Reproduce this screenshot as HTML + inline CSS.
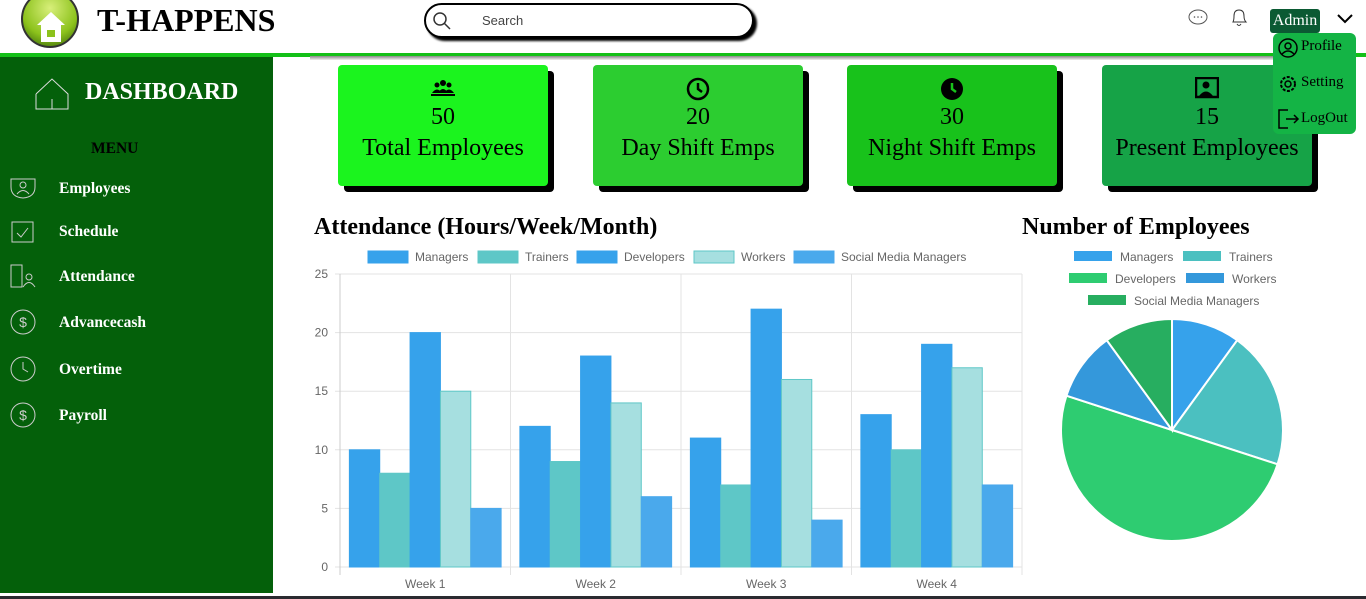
<!DOCTYPE html>
<html><head><meta charset="utf-8"><style>
*{box-sizing:border-box;margin:0;padding:0}
body{width:1366px;height:599px;overflow:hidden;background:#fff;font-family:"Liberation Serif",serif;position:relative}
.abs{position:absolute}
.card{position:absolute;top:65px;width:210px;height:121px;border-radius:4px;box-shadow:6px 6px 0 #000;text-align:center;font-size:24px;color:#000}
.card .n{position:absolute;top:39px;width:100%}
.card .l{position:absolute;top:70px;width:100%}
.card svg{position:absolute;top:12px;left:93px}
.nav{position:absolute;left:59px;color:#fff;font-weight:bold;font-size:15.5px}
.ico{position:absolute;left:10px}
.lg{font-family:"Liberation Sans",sans-serif;font-size:12px;fill:#666}
</style></head><body>
<div class="abs" style="left:0;top:0;width:1366px;height:54px;background:#fff"></div>
<div class="abs" style="left:21px;top:-10px;width:58px;height:58px;border-radius:50%;background:radial-gradient(circle at 50% 30%,#d8ef7a,#8cc21c 60%,#2d5a08);border:2px solid #333"></div>
<svg class="abs" style="left:36px;top:10px" width="30" height="34"><polygon points="15,2 29,15 25,15 25,32 5,32 5,15 1,15" fill="#fff"/><rect x="11" y="20" width="8" height="7" fill="#8cc21c"/></svg>
<div class="abs" style="left:97px;top:2px;font-size:32px;font-weight:bold">T-HAPPENS</div>
<div class="abs" style="left:424px;top:3px;width:330px;height:35px;border:2px solid #000;border-radius:18px;box-shadow:3px 3px 2px #000;background:#fff">
<svg class="abs" style="left:6px;top:6px" width="20" height="20"><circle cx="8" cy="8" r="6" fill="none" stroke="#333" stroke-width="1.5"/><line x1="12.5" y1="12.5" x2="18" y2="18" stroke="#333" stroke-width="1.5"/></svg>
<span class="abs" style="left:56px;top:8px;font-family:'Liberation Sans',sans-serif;font-size:13px;color:#444">Search</span></div>
<svg class="abs" style="left:1187px;top:8px" width="22" height="20"><ellipse cx="11" cy="9" rx="9" ry="7" fill="none" stroke="#555"/><circle cx="7.5" cy="9" r=".8" fill="#555"/><circle cx="11" cy="9" r=".8" fill="#555"/><circle cx="14.5" cy="9" r=".8" fill="#555"/></svg>
<svg class="abs" style="left:1229px;top:7px" width="20" height="22"><path d="M4 15 Q5 13 5 9 Q5 3 10 3 Q15 3 15 9 Q15 13 17 15 Z" fill="none" stroke="#333"/><path d="M8 17 Q10 20 12 17" fill="none" stroke="#333"/></svg>
<div class="abs" style="left:1270px;top:9px;width:50px;height:24px;background:#0b5a33;color:#fff;border-radius:3px;font-size:16px;text-align:center;line-height:24px">Admin</div>
<svg class="abs" style="left:1336px;top:13px" width="18" height="12"><polyline points="2,2 9,9 16,2" fill="none" stroke="#000" stroke-width="2"/></svg>
<div class="abs" style="left:0;top:53px;width:1366px;height:4px;background:#13c017"></div>
<div class="abs" style="left:0;top:57px;width:273px;height:536px;background:#04600a"></div>
<div class="abs" style="left:0;top:593px;width:1366px;height:6px;background:#fff"></div>
<div class="abs" style="left:0;top:596px;width:1366px;height:3px;background:#2a2a30"></div>
<svg class="abs" style="left:35px;top:77px" width="34" height="33"><polyline points="1,17 17,2 33,17 33,32 1,32 1,17" fill="none" stroke="#ddd"/><line x1="17" y1="22" x2="17" y2="32" stroke="#ddd"/></svg>
<div class="abs" style="left:85px;top:79px;color:#fff;font-weight:bold;font-size:24px">DASHBOARD</div>
<div class="abs" style="left:91px;top:140px;font-weight:bold;font-size:15.5px">MENU</div>
<div class="nav" style="top:180px">Employees</div>
<div class="nav" style="top:223px">Schedule</div>
<div class="nav" style="top:268px">Attendance</div>
<div class="nav" style="top:314px">Advancecash</div>
<div class="nav" style="top:361px">Overtime</div>
<div class="nav" style="top:407px">Payroll</div>
<svg class="ico" style="top:177px" width="26" height="22"><path d="M1 2 H25 V10 Q25 20 13 21 Q1 20 1 10Z" fill="none" stroke="#ccc"/><circle cx="13" cy="8" r="3" fill="none" stroke="#ccc"/><path d="M7 17 Q13 10 19 17" fill="none" stroke="#ccc"/></svg>
<svg class="ico" style="top:218px" width="26" height="26"><rect x="2" y="4" width="21" height="20" fill="none" stroke="#ccc"/><polyline points="7,15 11,19 18,10" fill="none" stroke="#ccc"/></svg>
<svg class="ico" style="top:263px" width="26" height="26"><rect x="1" y="2" width="11" height="22" fill="none" stroke="#ccc"/><circle cx="19" cy="14" r="3" fill="none" stroke="#ccc"/><path d="M13 24 Q19 15 25 24" fill="none" stroke="#ccc"/></svg>
<svg class="ico" style="top:309px" width="26" height="26"><circle cx="13" cy="13" r="12" fill="none" stroke="#ccc"/><text x="13" y="18" text-anchor="middle" font-size="14" fill="#ccc" font-family="Liberation Sans">$</text></svg>
<svg class="ico" style="top:356px" width="26" height="26"><circle cx="13" cy="13" r="12" fill="none" stroke="#ccc"/><polyline points="13,6 13,13 18,16" fill="none" stroke="#ccc"/></svg>
<svg class="ico" style="top:402px" width="26" height="26"><circle cx="13" cy="13" r="12" fill="none" stroke="#ccc"/><text x="13" y="18" text-anchor="middle" font-size="14" fill="#ccc" font-family="Liberation Sans">$</text></svg>
<div class="abs" style="left:310px;top:56px;width:1000px;height:4px;background:linear-gradient(#888,#eee)"></div>

<div class="card" style="left:338px;background:#1bf41e"><svg width="24" height="20" viewBox="0 0 24 20"><circle cx="6" cy="8" r="2.5"/><circle cx="12" cy="6" r="3"/><circle cx="18" cy="8" r="2.5"/><path d="M1 16 Q6 9 11 16Z M7 16 Q12 8 17 16Z M13 16 Q18 9 23 16Z"/><rect x="0" y="17" width="24" height="2"/></svg><div class="n">50</div><div class="l">Total Employees</div></div>
<div class="card" style="left:593px;background:#2ccd30"><svg width="24" height="24"><circle cx="12" cy="12" r="10" fill="none" stroke="#000" stroke-width="2.5"/><polyline points="12,6 12,12 16,15" fill="none" stroke="#000" stroke-width="2.5"/></svg><div class="n">20</div><div class="l">Day Shift Emps</div></div>
<div class="card" style="left:847px;background:#18c21b"><svg width="24" height="24"><circle cx="12" cy="12" r="11"/><polyline points="12,6 12,12 16,15" fill="none" stroke="#18c21b" stroke-width="2.5"/></svg><div class="n">30</div><div class="l">Night Shift Emps</div></div>
<div class="card" style="left:1102px;background:#16a347"><svg width="24" height="22"><rect x="1" y="1" width="22" height="19" fill="none" stroke="#000" stroke-width="2.5"/><circle cx="11" cy="8" r="3.5"/><path d="M4 19 Q11 10 18 19Z"/></svg><div class="n">15</div><div class="l">Present Employees</div></div>

<div class="abs" style="left:1273px;top:33px;width:83px;height:101px;background:#14b445;border-radius:6px;font-size:15px">
<svg class="abs" style="left:5px;top:5px" width="20" height="20"><circle cx="10" cy="10" r="9" fill="none" stroke="#000" stroke-width="1.5"/><circle cx="10" cy="8" r="3" fill="none" stroke="#000" stroke-width="1.5"/><path d="M4 16 Q10 10 16 16" fill="none" stroke="#000" stroke-width="1.5"/></svg>
<span class="abs" style="left:28px;top:5px">Profile</span>
<svg class="abs" style="left:5px;top:41px" width="20" height="20"><circle cx="10" cy="10" r="7" fill="none" stroke="#000" stroke-width="2" stroke-dasharray="3 1.5"/><circle cx="10" cy="10" r="3" fill="none" stroke="#000" stroke-width="1.5"/></svg>
<span class="abs" style="left:28px;top:41px">Setting</span>
<svg class="abs" style="left:5px;top:76px" width="22" height="20"><polyline points="10,1 1,1 1,19 10,19" fill="none" stroke="#000" stroke-width="1.5"/><line x1="8" y1="10" x2="20" y2="10" stroke="#000" stroke-width="1.5"/><polyline points="16,6 20,10 16,14" fill="none" stroke="#000" stroke-width="1.5"/></svg>
<span class="abs" style="left:28px;top:77px">LogOut</span></div>

<div class="abs" style="left:314px;top:214px;font-size:24px;font-weight:bold">Attendance (Hours/Week/Month)</div>
<div class="abs" style="left:1022px;top:214px;font-size:24px;font-weight:bold">Number of Employees</div>
<svg id="bar" class="abs" style="left:300px;top:240px" width="730" height="355"></svg>
<svg id="pie" class="abs" style="left:1030px;top:240px" width="336" height="310"></svg>
<script>
const categories=["Week 1","Week 2","Week 3","Week 4"];
const seriesNames=["Managers","Trainers","Developers","Workers","Social Media Managers"];
const managers=[10,12,11,13];
const trainers=[8,9,7,10];
const developers=[20,18,22,19];
const workers=[15,14,16,17];
const socialMedia=[5,6,4,7];
const yTicks=[0,5,10,15,20,25];
const pieLabels=["Managers","Trainers","Developers","Workers","Social Media Managers"];
const pieValues=[10,20,50,10,10];

const NS="http://www.w3.org/2000/svg";
function mk(p,t,a){const e=document.createElementNS(NS,t);for(const k in a)e.setAttribute(k,a[k]);p.appendChild(e);return e;}
const bar=document.getElementById('bar');
const X0=40,X1=722,Y0=327,Y1=34,YMAX=25;
const y=v=>Y0-(v/YMAX)*(Y0-Y1);
const cw=(X1-X0)/categories.length;
const fills=["#36a2eb","#5ec7c7","#36a2eb","#a6dfe0","#4aa9ec"];
const strokes=["#36a2eb","#5ec7c7","#36a2eb","#5ec7c7","#4aa9ec"];
const series=[managers,trainers,developers,workers,socialMedia];
yTicks.forEach(t=>{
 const l=mk(bar,'line',{x1:X0-5,x2:X1,y1:y(t),y2:y(t),stroke:'#e3e3e3'});
 
 
 const tx=mk(bar,'text',{x:X0-12,y:y(t)+4,'text-anchor':'end',class:'lg'});tx.textContent=t;
 
 
});
for(let i=0;i<=categories.length;i++){
 const l=mk(bar,'line',{x1:X0+i*cw,x2:X0+i*cw,y1:Y1,y2:Y0+8,stroke:i==0?'#ccc':'#e3e3e3'});
 
 
}
const bw=cw*0.89/5;
categories.forEach((c,i)=>{
 const tx=mk(bar,'text',{x:X0+cw*(i+0.5),y:Y0+21,'text-anchor':'middle',class:'lg'});tx.textContent=c;
 
 
 series.forEach((s,j)=>{
  const x=X0+cw*i+cw*0.055+j*bw;
  const r=mk(bar,'rect',{x:x,y:y(s[i]),width:bw,height:Y0-y(s[i]),fill:fills[j],stroke:strokes[j],'stroke-width':1});
  
  
 });
});
let lx=[68,178,277,394,494];
seriesNames.forEach((n,j)=>{
 const g=mk(bar,'g',{});
 
 
 mk(g,'rect',{x:lx[j],y:11,width:40,height:12,fill:fills[j],stroke:strokes[j]});
 const t=mk(g,'text',{x:lx[j]+47,y:21,class:'lg'});t.textContent=n;
});
const pie=document.getElementById('pie');
const pf=["#36a2eb","#4bc0c0","#2ecc71","#3498db","#27ae60"];
const cx=142,cy=190,R=111;
const tot=pieValues.reduce((a,b)=>a+b,0);
let ang=-Math.PI/2;
pieValues.forEach((v,i)=>{
 const a2=ang+v/tot*2*Math.PI;
 const large=(a2-ang)>Math.PI?1:0;
 const p=mk(pie,'path',{d:`M${cx},${cy} L${cx+R*Math.cos(ang)},${cy+R*Math.sin(ang)} A${R},${R} 0 ${large} 1 ${cx+R*Math.cos(a2)},${cy+R*Math.sin(a2)} Z`,fill:pf[i],stroke:'#fff','stroke-width':2});
 
 
 ang=a2;
});
const pl=[[44,11],[153,11],[39,33],[156,33],[58,55]];
pieLabels.forEach((n,i)=>{
 const g=mk(pie,'g',{});
 
 
 mk(g,'rect',{x:pl[i][0],y:pl[i][1],width:38,height:10,fill:pf[i]});
 const t=mk(g,'text',{x:pl[i][0]+46,y:pl[i][1]+10,class:'lg'});t.textContent=n;
});
</script>
</body></html>
